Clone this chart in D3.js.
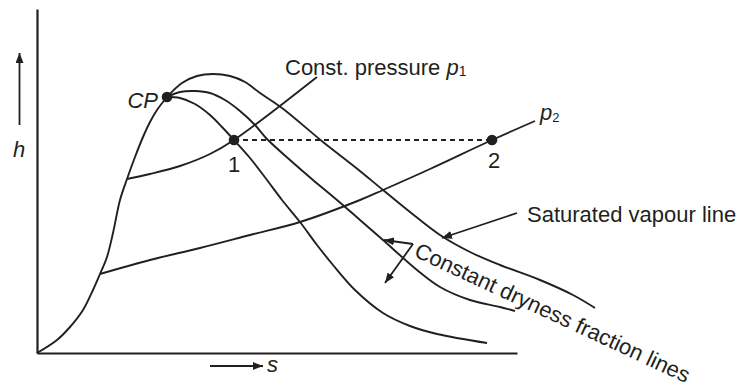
<!DOCTYPE html>
<html><head><meta charset="utf-8">
<script src="https://cdn.jsdelivr.net/npm/d3@7"></script>
<style>
html,body{margin:0;padding:0;background:#fff;}
svg{display:block;}
text{font-family:"Liberation Sans",Arial,Helvetica,sans-serif;fill:#231f20;}
</style>
</head><body>
<svg id="c" width="741" height="388"></svg>
<script>
// ---- data (entropy s, enthalpy h in arbitrary units) ----
const liquidS = [0,0.5,0.825,1.15,1.4,1.575,1.75,1.9,2.075,2.25,2.45,2.65,2.825,3.0,3.25];
const liquidH = [0,0.325,0.65,1.075,1.575,1.975,2.4,3.0,3.825,4.35,4.9,5.4,5.775,6.075,6.4];

const vapourS = [3.25,3.625,4.0,4.4,4.825,5.2,5.575,6.125,7.15,7.95,8.65,9.325,10.075,10.825,11.575,12.575,13.4,13.95];
const vapourH = [6.4,6.75,6.925,6.975,6.925,6.775,6.5,6.125,5.275,4.65,4.075,3.525,2.95,2.525,2.2,1.825,1.45,1.125];

const dryBS = [3.25,3.575,3.95,4.325,4.7,5.075,5.45,5.75,6.325,6.9,7.5,8.075,8.65,9.5,10.075,10.825,11.575,11.95];
const dryBH = [6.4,6.525,6.55,6.5,6.325,6.05,5.7,5.35,4.825,4.325,3.825,3.325,2.825,2.075,1.65,1.325,1.15,1.05];

const dryAS = [3.25,3.575,3.95,4.325,4.625,4.925,5.325,5.75,6.125,6.575,7.0,7.4,7.95,8.65,9.325,10.0,11.25];
const dryAH = [6.4,6.375,6.225,5.95,5.65,5.325,4.875,4.325,3.825,3.275,2.7,2.2,1.575,1.0,0.675,0.475,0.25];

const p1S = [2.25,2.825,3.575,4.325,4.925,7.0];
const p1H = [4.35,4.475,4.675,4.975,5.325,6.9];

const p2S = [1.575,2.825,4.075,5.325,6.575,8.075,8.65,9.825,11.375,12.45];
const p2H = [1.975,2.325,2.625,2.95,3.275,3.825,4.075,4.6,5.325,5.8];

const pointNames = ["CP","1","2"];
const pointS = [3.25,4.925,11.375];
const pointH = [6.4,5.325,5.325];

// ---- scales ----
const svg = d3.select("#c");
const x = d3.scaleLinear().domain([0,12]).range([37,517]);
const y = d3.scaleLinear().domain([0,8.6]).range([353,9]);
const ink = "#231f20";

const defs = svg.append("defs");
defs.append("marker").attr("id","arr").attr("viewBox","0 0 10 8")
  .attr("refX",10).attr("refY",4).attr("markerWidth",10).attr("markerHeight",8)
  .attr("markerUnits","userSpaceOnUse").attr("orient","auto")
  .append("path").attr("d","M0,0L10,4L0,8Z").attr("fill",ink);

// axes
svg.append("g").attr("transform",`translate(0,${y(0)})`)
  .call(d3.axisBottom(x).ticks(0).tickSizeOuter(0))
  .call(g=>g.select(".domain").attr("stroke",ink).attr("stroke-width",2.2));
svg.append("g").attr("transform",`translate(${x(0)},0)`)
  .call(d3.axisLeft(y).ticks(0).tickSizeOuter(0))
  .call(g=>g.select(".domain").attr("stroke",ink).attr("stroke-width",2.2));

const zip = (a,b)=>a.map((v,i)=>[v,b[i]]);
const line = d3.line().x(d=>x(d[0])).y(d=>y(d[1])).curve(d3.curveCatmullRom.alpha(0.5));

const curves = [[liquidS,liquidH],[vapourS,vapourH],[dryBS,dryBH],[dryAS,dryAH],[p1S,p1H],[p2S,p2H]];
svg.append("g").selectAll("path").data(curves).join("path")
  .attr("d",c=>line(zip(c[0],c[1])))
  .attr("fill","none").attr("stroke",ink).attr("stroke-width",1.9).attr("stroke-linejoin","round");

// dashed constant-h line 1 -> 2
svg.append("line")
  .attr("x1",x(pointS[1])).attr("y1",y(pointH[1]))
  .attr("x2",x(pointS[2])).attr("y2",y(pointH[2]))
  .attr("stroke",ink).attr("stroke-width",2).attr("stroke-dasharray","5,4");

svg.append("g").selectAll("circle").data(pointNames).join("circle")
  .attr("cx",(d,i)=>x(pointS[i])).attr("cy",(d,i)=>y(pointH[i]))
  .attr("r",5.3).attr("fill",ink);

// arrows (annotation pointers)
const arrowFrom = [[12.0,3.5],[9.4,2.725],[9.4,2.725],[-0.4375,5.7],[4.325,-0.325]];
const arrowTo   = [[10.125,2.875],[8.675,2.825],[8.7,1.75],[-0.4375,7.5],[5.65,-0.325]];
svg.append("g").selectAll("line").data(arrowFrom).join("line")
  .attr("x1",d=>x(d[0])).attr("y1",d=>y(d[1]))
  .attr("x2",(d,i)=>x(arrowTo[i][0])).attr("y2",(d,i)=>y(arrowTo[i][1]))
  .attr("stroke",ink).attr("stroke-width",1.8).attr("marker-end","url(#arr)");

// labels
const fs = 22;
svg.append("text").attr("x",x(3.025)).attr("y",y(6.125)).attr("text-anchor","end")
  .attr("font-size",fs).attr("font-style","italic").text("CP");
svg.append("text").attr("x",x(4.925)).attr("y",y(4.525)).attr("text-anchor","middle")
  .attr("font-size",fs).text("1");
svg.append("text").attr("x",x(11.425)).attr("y",y(4.625)).attr("text-anchor","middle")
  .attr("font-size",fs).text("2");

const t1 = svg.append("text").attr("x",x(6.2)).attr("y",y(6.95)).attr("font-size",fs);
t1.append("tspan").text("Const. pressure ");
t1.append("tspan").attr("font-style","italic").text("p");
t1.append("tspan").attr("font-size",14).attr("dy",1).text("1");

const t2 = svg.append("text").attr("x",x(12.575)).attr("y",y(5.825)).attr("font-size",fs);
t2.append("tspan").attr("font-style","italic").text("p");
t2.append("tspan").attr("font-size",13).attr("dy",2).text("2");

svg.append("text").attr("x",x(12.25)).attr("y",y(3.275)).attr("font-size",fs)
  .text("Saturated vapour line");

svg.append("text").attr("transform",`translate(${x(9.4)},${y(2.425)}) rotate(25)`)
  .attr("font-size",fs).text("Constant dryness fraction lines");

svg.append("text").attr("x",x(-0.6)).attr("y",y(4.9)).attr("font-size",fs)
  .attr("font-style","italic").text("h");
svg.append("text").attr("x",x(5.75)).attr("y",y(-0.475)).attr("font-size",fs)
  .attr("font-style","italic").text("s");
</script>
</body></html>
